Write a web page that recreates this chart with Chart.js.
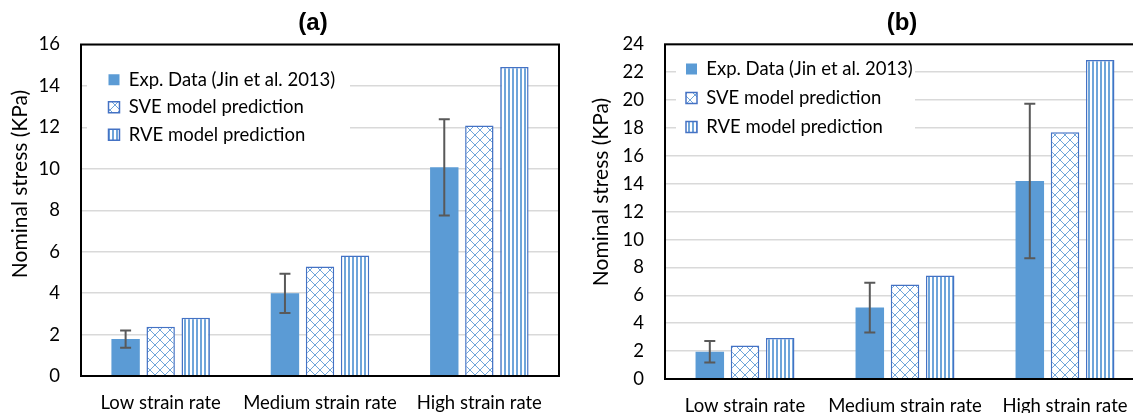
<!DOCTYPE html>
<html>
<head>
<meta charset="utf-8">
<title>Nominal stress by strain rate</title>
<script src="https://cdn.jsdelivr.net/npm/chart.js@4.4.1/dist/chart.umd.min.js"></script>
<style>
  html, body { margin: 0; padding: 0; background: #fff; overflow: hidden; }
  #wrap { position: relative; width: 1133px; height: 413px; overflow: hidden; }
  canvas { position: absolute; top: 0; }
  #chartA { left: 0; }
  #chartB { left: 580px; }
</style>
</head>
<body>
<div id="wrap">
  <canvas id="chartA" width="626" height="413"></canvas>
  <canvas id="chartB" width="644" height="413"></canvas>
</div>
<script>
// ---- data -------------------------------------------------------------
const categories = ['Low strain rate', 'Medium strain rate', 'High strain rate'];
const seriesNames = ['Exp. Data (Jin et al. 2013)', 'SVE model prediction', 'RVE model prediction'];
const yAxisLabel = 'Nominal stress (KPa)';

// panel (a)
const expA = [1.78, 3.99, 10.07];
const expErrA = [0.42, 0.95, 2.32];
const sveA = [2.38, 5.29, 12.09];
const rveA = [2.81, 5.82, 14.92];
const yMaxA = 16;

// panel (b)
const expB = [1.96, 5.12, 14.20];
const expErrB = [0.77, 1.79, 5.54];
const sveB = [2.41, 6.77, 17.69];
const rveB = [2.94, 7.43, 22.88];
const yMaxB = 24;

const yStep = 2;

// ---- styling ----------------------------------------------------------
const FONT = 'Lato, "Open Sans", sans-serif';
const FONT_SIZE = 18.5;
const EXP_COLOR = '#5B9BD5';
const EDGE_COLOR = '#4472C4';
const HATCH_COLOR = '#6FA5DA';

function crossPattern() {
  const c = document.createElement('canvas');
  c.width = 10; c.height = 10;
  const g = c.getContext('2d');
  g.fillStyle = '#fff'; g.fillRect(0, 0, 10, 10);
  g.strokeStyle = HATCH_COLOR; g.lineWidth = 1;
  g.beginPath();
  g.moveTo(0, 0); g.lineTo(10, 10);
  g.moveTo(10, 0); g.lineTo(0, 10);
  g.stroke();
  return g.createPattern(c, 'repeat');
}

function stripePattern() {
  const c = document.createElement('canvas');
  c.width = 4; c.height = 4;
  const g = c.getContext('2d');
  g.fillStyle = '#fff'; g.fillRect(0, 0, 4, 4);
  g.fillStyle = HATCH_COLOR; g.fillRect(0, 0, 2, 4);
  return g.createPattern(c, 'repeat');
}

// error bars on the experimental series
const errorBars = {
  id: 'errorBars',
  afterDatasetsDraw(chart, args, opts) {
    const meta = chart.getDatasetMeta(0);
    const y = chart.scales.y;
    const ctx = chart.ctx;
    ctx.save();
    ctx.strokeStyle = '#595959';
    ctx.lineWidth = 2;
    meta.data.forEach((bar, i) => {
      const v = opts.values[i], e = opts.errors[i];
      const yTop = y.getPixelForValue(v + e);
      const yBot = y.getPixelForValue(v - e);
      ctx.beginPath();
      ctx.moveTo(bar.x, yTop); ctx.lineTo(bar.x, yBot);
      ctx.moveTo(bar.x - 5.5, yTop); ctx.lineTo(bar.x + 5.5, yTop);
      ctx.moveTo(bar.x - 5.5, yBot); ctx.lineTo(bar.x + 5.5, yBot);
      ctx.stroke();
    });
    ctx.restore();
  }
};

// legend placed inside the plot on a white panel, plus a black frame round the plot
const legendPanel = {
  id: 'legendPanel',
  afterLayout(chart, args, opts) {
    const lg = chart.legend, a = chart.chartArea;
    if (!lg) return;
    const w = lg.right - lg.left, h = lg.bottom - lg.top;
    lg.left = a.left + opts.shiftX; lg.right = lg.left + w;
    lg.top = a.top + opts.shiftY; lg.bottom = lg.top + h;
  },
  beforeDatasetsDraw(chart, args, opts) {
    const a = chart.chartArea, ctx = chart.ctx;
    ctx.save();
    ctx.fillStyle = '#fff';
    ctx.fillRect(a.left + opts.box[0], a.top + opts.box[1], opts.box[2], opts.box[3]);
    ctx.restore();
    chart.legend.draw();
  },
  afterDatasetsDraw(chart) {
    const a = chart.chartArea, ctx = chart.ctx;
    ctx.save();
    ctx.strokeStyle = '#000';
    ctx.lineWidth = 2;
    ctx.strokeRect(a.left, a.top, a.right - a.left, a.bottom - a.top);
    ctx.restore();
  }
};

// rotated value-axis caption
const axisCaption = {
  id: 'axisCaption',
  afterDraw(chart, args, opts) {
    const ctx = chart.ctx;
    ctx.save();
    ctx.translate(opts.x, opts.y);
    ctx.rotate(-Math.PI / 2);
    ctx.font = '21px ' + FONT;
    ctx.fillStyle = '#000';
    ctx.textAlign = 'center';
    ctx.textBaseline = 'middle';
    ctx.fillText(opts.text, 0, 0);
    ctx.restore();
  }
};

function makePanel(id, title, exp, err, sve, rve, yMax, layout) {
  const cross = crossPattern();
  const stripes = stripePattern();
  return new Chart(document.getElementById(id), {
    type: 'bar',
    data: {
      labels: categories,
      datasets: [
        { label: seriesNames[0], data: exp, backgroundColor: EXP_COLOR, borderWidth: 0 },
        { label: seriesNames[1], data: sve, backgroundColor: cross, borderColor: EDGE_COLOR, borderWidth: 1.5 },
        { label: seriesNames[2], data: rve, backgroundColor: stripes, borderColor: EDGE_COLOR, borderWidth: 1.5 }
      ]
    },
    options: {
      responsive: false,
      animation: false,
      devicePixelRatio: 1,
      categoryPercentage: 0.66,
      barPercentage: 0.81,
      layout: { padding: 0 },
      scales: {
        x: {
          grid: { display: false },
          border: { display: false },
          ticks: {
            color: '#000', padding: 7.5, maxRotation: 0, minRotation: 0, autoSkip: false,
            font: { family: FONT, size: FONT_SIZE }
          },
          afterFit(scale) { scale.height = layout.xHeight; }
        },
        y: {
          min: 0, max: yMax,
          grid: { color: '#d9d9d9', lineWidth: 1.5, drawTicks: false },
          border: { display: false },
          ticks: { stepSize: yStep, color: '#000', padding: 21, font: { family: FONT, size: FONT_SIZE } },
          afterFit(scale) { scale.width = layout.yWidth; }
        },
        // empty right-hand margin so the panel title stays centred on the whole canvas
        margin: {
          type: 'linear', position: 'right',
          grid: { display: false }, border: { display: false }, ticks: { display: false },
          afterFit(scale) { scale.width = layout.rightMargin; }
        }
      },
      plugins: {
        title: {
          display: true, text: title, color: '#000',
          font: { family: '"Liberation Sans", Arial, sans-serif', size: 24, weight: 'bold' },
          padding: { top: 8.6, bottom: layout.titleBottom }
        },
        legend: {
          position: 'chartArea',
          align: 'start',
          labels: {
            color: '#000', boxWidth: 11, boxHeight: 11,
            padding: layout.legendPad,
            font: { family: FONT, size: FONT_SIZE }
          }
        },
        tooltip: { enabled: false },
        errorBars: { values: exp, errors: err },
        legendPanel: { shiftX: layout.legendX, shiftY: layout.legendY, box: layout.legendBox },
        axisCaption: { text: yAxisLabel, x: layout.captionX, y: layout.captionY }
      }
    },
    plugins: [errorBars, legendPanel, axisCaption]
  });
}

makePanel('chartA', '(a)', expA, expErrA, sveA, rveA, yMaxA, {
  rightMargin: 67, xHeight: 37, yWidth: 81, titleBottom: 7.1,
  legendPad: 9, legendX: 18.5, legendY: 17, legendBox: [6, 16, 263, 92],
  captionX: 20, captionY: 184
});

makePanel('chartB', '(b)', expB, expErrB, sveB, rveB, yMaxB, {
  rightMargin: 79, xHeight: 34, yWidth: 85, titleBottom: 6.9,
  legendPad: 10.5, legendX: 10.5, legendY: 5, legendBox: [11, 11, 239, 90],
  captionX: 21.7, captionY: 192
});
</script>
</body>
</html>
